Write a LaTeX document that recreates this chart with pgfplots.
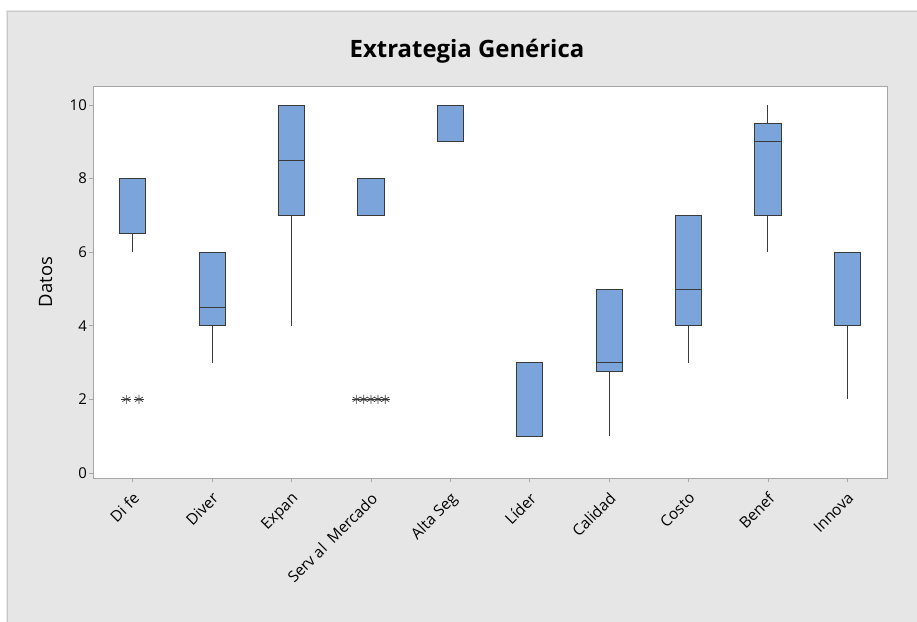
\documentclass[border=0pt]{standalone}
\usepackage{pgfplots}
\pgfplotsset{compat=1.18}
\usepgfplotslibrary{statistics}
\usepackage{fontspec}
\setmainfont{Open Sans}
\definecolor{boxblue}{HTML}{7BA4DA}
\definecolor{panelgray}{HTML}{E6E6E6}
\definecolor{edgegray}{HTML}{3A3A3A}
\definecolor{framegray}{HTML}{A6A6A6}
\begin{document}
\begin{tikzpicture}[x=1bp,y=1bp]
\path[use as bounding box] (0,0) rectangle (917,622);
\fill[white] (0,0) rectangle (917,622);
\fill[panelgray] (6,0) rectangle (917,612);
\draw[framegray!60,line width=0.8bp] (7,0) -- (7,611) -- (917,611);
\node[font=\fontsize{24}{28}\selectfont\bfseries] at (467,571) {Extrategia Genérica};
\begin{axis}[
  at={(93bp,144bp)}, anchor=south west,
  scale only axis, width=794bp, height=392bp,
  xmin=0.5, xmax=10.5, ymin=-0.14, ymax=10.52,
  axis background/.style={fill=white},
  axis line style={framegray, line width=0.8bp},
  xtick={1,...,10},
  xticklabels={Di fe,Diver,Expan,Serv al\ \ Mercado,Alta Seg,Líder,Calidad,Costo,Benef,Innova},
  ytick={0,2,4,6,8,10},
  tick align=outside, major tick length=4bp,
  tick style={framegray, line width=0.6bp},
  xtick pos=bottom, ytick pos=left,
  /pgf/number format/assume math mode=true,
  yticklabel style={font=\fontsize{15}{18}\selectfont, inner sep=2bp},
  xticklabel style={font=\fontsize{15.5}{18}\selectfont, rotate=45, anchor=north east, inner sep=1bp, xshift=-6bp, yshift=-5bp},
  ylabel={Datos},
  ylabel style={font=\fontsize{18.5}{22}\selectfont, yshift=12bp},
  boxplot/draw direction=y,
  boxplot/whisker extend=0,
  boxplot/box extend=0.33,
  every axis plot/.append style={draw=edgegray, line width=0.9bp},
]
\addplot[fill=boxblue, boxplot prepared={draw position=1, lower whisker=6, lower quartile=6.5, median=8, upper quartile=8, upper whisker=8}] coordinates {};
\addplot[fill=boxblue, boxplot prepared={draw position=2, lower whisker=3, lower quartile=4, median=4.5, upper quartile=6, upper whisker=6}] coordinates {};
\addplot[fill=boxblue, boxplot prepared={draw position=3, lower whisker=4, lower quartile=7, median=8.5, upper quartile=10, upper whisker=10}] coordinates {};
\addplot[fill=boxblue, boxplot prepared={draw position=4, lower whisker=7, lower quartile=7, median=8, upper quartile=8, upper whisker=8}] coordinates {};
\addplot[fill=boxblue, boxplot prepared={draw position=5, lower whisker=9, lower quartile=9, median=10, upper quartile=10, upper whisker=10}] coordinates {};
\addplot[fill=boxblue, boxplot prepared={draw position=6, lower whisker=1, lower quartile=1, median=3, upper quartile=3, upper whisker=3}] coordinates {};
\addplot[fill=boxblue, boxplot prepared={draw position=7, lower whisker=1, lower quartile=2.75, median=3, upper quartile=5, upper whisker=5}] coordinates {};
\addplot[fill=boxblue, boxplot prepared={draw position=8, lower whisker=3, lower quartile=4, median=5, upper quartile=7, upper whisker=7}] coordinates {};
\addplot[fill=boxblue, boxplot prepared={draw position=9, lower whisker=6, lower quartile=7, median=9, upper quartile=9.5, upper whisker=10}] coordinates {};
\addplot[fill=boxblue, boxplot prepared={draw position=10, lower whisker=2, lower quartile=4, median=4, upper quartile=6, upper whisker=6}] coordinates {};
\addplot[only marks, mark=asterisk, mark size=4.5bp, mark options={edgegray, line width=0.7bp}] coordinates {(0.92,2) (1.08,2) (3.82,2) (3.91,2) (4.0,2) (4.09,2) (4.18,2)};
\addplot[only marks, mark=-, mark size=5bp, mark options={edgegray, line width=0.7bp}] coordinates {(0.92,2) (1.08,2) (3.82,2) (3.91,2) (4.0,2) (4.09,2) (4.18,2)};
\end{axis}
\end{tikzpicture}
\end{document}
